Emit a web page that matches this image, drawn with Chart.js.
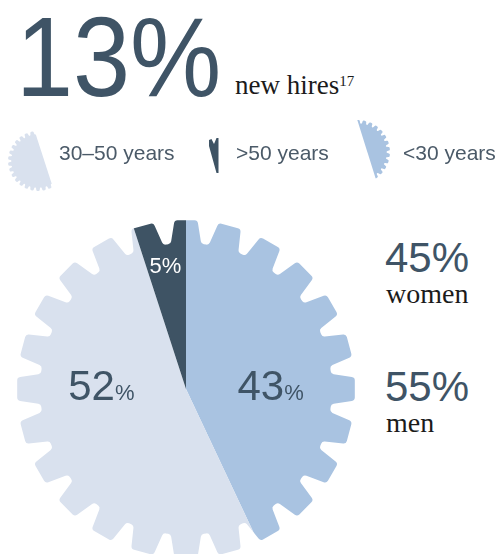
<!DOCTYPE html>
<html>
<head>
<meta charset="utf-8">
<script src="https://cdn.jsdelivr.net/npm/chart.js@4"></script>
<style>
  html, body { margin: 0; padding: 0; width: 503px; height: 554px; overflow: hidden; background: #fff; }
  .abs { position: absolute; white-space: nowrap; line-height: 1; }
  .sans { font-family: "Liberation Sans", Arial, sans-serif; }
  .serif { font-family: "Liberation Serif", "Times New Roman", serif; color: #1b1b1b; }
  .num { color: #3f5466; }
  #chartBox { position: absolute; left: 0; top: 209px; width: 372px; height: 360px; }
</style>
</head>
<body>
<div id="headline" class="abs sans num" style="left:16px; top:0; font-size:114px; transform:scaleX(0.9); transform-origin:left top;"></div>
<div id="subline" class="abs serif" style="left:235px; top:72px; font-size:27px;"></div>
<div id="legend"></div>
<div id="gender"></div>
<div id="chartBox"><canvas id="gearPie" width="372" height="360"></canvas></div>
<script>
const headlineValue = 13;
const headlineLabel = 'new hires';
const footnote = '17';

const ageLabels = ['<30 years', '30–50 years', '>50 years'];
const ageValues = [43, 52, 5];
const ageColors = ['#a9c3e1', '#d9e1ee', '#3e5364'];
const legendOrder = [1, 2, 0];

const genderLabels = ['women', 'men'];
const genderValues = [45, 55];

document.getElementById('headline').textContent = headlineValue + '%';
document.getElementById('subline').innerHTML = headlineLabel +
  '<span style="font-size:15px; position:relative; top:-8px;">' + footnote + '</span>';

// gear outline, angles measured clockwise from 12 o'clock
function gearPath(ctx, cx, cy, g) {
  const step = 2 * Math.PI / g.teeth;
  const pts = [];
  for (let k = 0; k < g.teeth; k++) {
    const a = k * step;
    pts.push([a - g.base, g.ri], [a - g.tip, g.ro], [a + g.tip, g.ro], [a + g.base, g.ri]);
  }
  const xy = pts.map(([a, r]) => [cx + r * Math.sin(a), cy - r * Math.cos(a)]);
  const n = xy.length;
  ctx.beginPath();
  ctx.moveTo((xy[n - 1][0] + xy[0][0]) / 2, (xy[n - 1][1] + xy[0][1]) / 2);
  for (let i = 0; i < n; i++) {
    const p = xy[i], q = xy[(i + 1) % n];
    ctx.arcTo(p[0], p[1], q[0], q[1], g.round);
  }
  ctx.closePath();
}

function bigGear(R) {
  const ro = R * 0.94;
  return { teeth: 24, ro: ro, ri: ro * 0.862, tip: 3.9 * Math.PI / 180, base: 6.0 * Math.PI / 180, round: 3.5 };
}

// legend
const legendBox = document.getElementById('legend');
const legendTextX = [59, 236, 403];
const iconBoxes = {
  1: { left: 0, top: 115, w: 70, h: 85 },
  2: { left: 200, top: 130, w: 30, h: 50 },
  0: { left: 340, top: 112, w: 60, h: 80 }
};

function drawIcon(idx, c) {
  const ctx = c.getContext('2d');
  ctx.fillStyle = ageColors[idx];
  const small = { teeth: 30, ro: 30, ri: 26.5, tip: 3.0 * Math.PI / 180, base: 4.5 * Math.PI / 180, round: 1.2 };
  if (idx === 1) {
    ctx.beginPath();
    ctx.moveTo(0, 0); ctx.lineTo(29.5, 0); ctx.lineTo(57, 85); ctx.lineTo(0, 85);
    ctx.closePath();
    ctx.clip();
    gearPath(ctx, 38, 46, small);
    ctx.fill();
  } else if (idx === 0) {
    ctx.beginPath();
    ctx.moveTo(14.8, 0); ctx.lineTo(60, 0); ctx.lineTo(60, 80); ctx.lineTo(39.9, 80);
    ctx.closePath();
    ctx.clip();
    gearPath(ctx, 18, 40, Object.assign({}, small, { ro: 32, ri: 28.5 }));
    ctx.fill();
  } else {
    const p = [[9, 10], [11.5, 9], [14, 14], [16.5, 8], [18.5, 8], [18.5, 43], [16.5, 43], [9, 16]];
    ctx.beginPath();
    p.forEach((q, i) => i ? ctx.lineTo(q[0], q[1]) : ctx.moveTo(q[0], q[1]));
    ctx.closePath();
    ctx.fill();
  }
}

legendOrder.forEach((idx, pos) => {
  const b = iconBoxes[idx];
  const c = document.createElement('canvas');
  c.width = b.w; c.height = b.h;
  c.style.cssText = 'position:absolute; left:' + b.left + 'px; top:' + b.top + 'px;';
  legendBox.appendChild(c);
  drawIcon(idx, c);

  const t = document.createElement('div');
  t.className = 'abs sans';
  t.style.cssText = 'left:' + legendTextX[pos] + 'px; top:142px; font-size:21px; color:#4b5a68;';
  t.textContent = ageLabels[idx];
  legendBox.appendChild(t);
});

// women / men
const genderBox = document.getElementById('gender');
const genderTop = [[237.4, 279.5], [366.4, 408.5]];
genderLabels.forEach((lab, i) => {
  const v = document.createElement('div');
  v.className = 'abs sans num';
  v.style.cssText = 'left:385px; top:' + genderTop[i][0] + 'px; font-size:42px;';
  v.textContent = genderValues[i] + '%';
  genderBox.appendChild(v);
  const l = document.createElement('div');
  l.className = 'abs serif';
  l.style.cssText = 'left:386px; top:' + genderTop[i][1] + 'px; font-size:28px;';
  l.textContent = lab;
  genderBox.appendChild(l);
});

const gearClip = {
  id: 'gearClip',
  beforeDatasetsDraw(chart) {
    const arc = chart.getDatasetMeta(0).data[0];
    chart.ctx.save();
    gearPath(chart.ctx, arc.x, arc.y, bigGear(arc.outerRadius));
    chart.ctx.clip();
  },
  afterDatasetsDraw(chart) {
    const ctx = chart.ctx;
    ctx.restore();
    const meta = chart.getDatasetMeta(0);
    meta.data.forEach((arc, i) => {
      const g = bigGear(arc.outerRadius);
      const mid = (arc.startAngle + arc.endAngle) / 2;
      const v = chart.data.datasets[0].data[i];
      ctx.save();
      ctx.textBaseline = 'alphabetic';
      if (v < 10) {
        ctx.font = '22px "Liberation Sans", Arial, sans-serif';
        ctx.fillStyle = '#ffffff';
        ctx.textAlign = 'center';
        const r = g.ro * 0.74;
        ctx.fillText(v + '%', arc.x + r * Math.cos(mid) - 1, arc.y + r * Math.sin(mid) + 7.5);
      } else {
        const x = arc.x + Math.sign(Math.cos(mid)) * g.ro * 0.5;
        const y = arc.y + 11;
        ctx.fillStyle = '#3f5466';
        ctx.font = '42px "Liberation Sans", Arial, sans-serif';
        const w1 = ctx.measureText(String(v)).width;
        ctx.font = '22px "Liberation Sans", Arial, sans-serif';
        const w2 = ctx.measureText('%').width;
        const x0 = x - (w1 + w2) / 2;
        ctx.textAlign = 'left';
        ctx.font = '42px "Liberation Sans", Arial, sans-serif';
        ctx.fillText(String(v), x0, y);
        ctx.font = '22px "Liberation Sans", Arial, sans-serif';
        ctx.fillText('%', x0 + w1, y);
      }
      ctx.restore();
    });
  }
};

new Chart(document.getElementById('gearPie').getContext('2d'), {
  type: 'pie',
  data: {
    labels: ageLabels,
    datasets: [{ data: ageValues, backgroundColor: ageColors, borderWidth: 0 }]
  },
  options: {
    responsive: false,
    animation: false,
    layout: { padding: 0 },
    plugins: { legend: { display: false }, tooltip: { enabled: false } }
  },
  plugins: [gearClip]
});
</script>
</body>
</html>
